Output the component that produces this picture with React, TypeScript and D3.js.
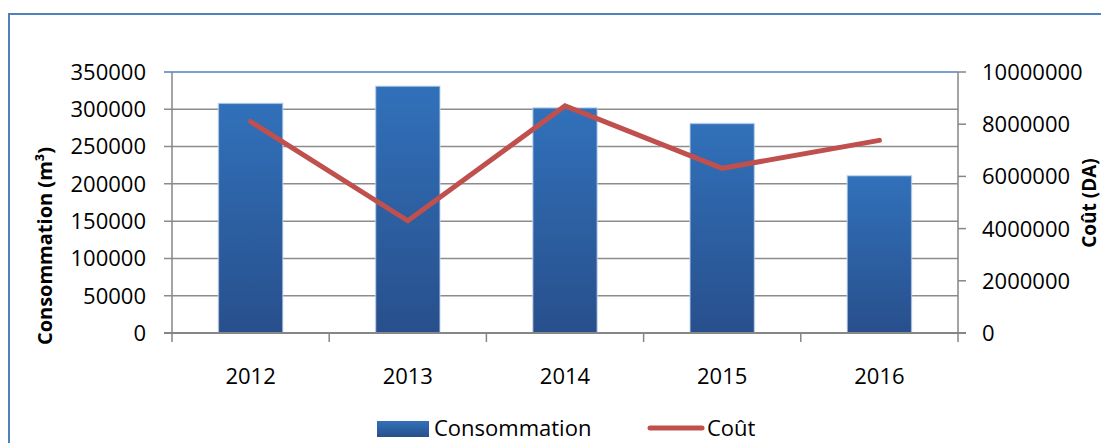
import { useRef, useEffect } from "react";
import * as d3 from "d3";

const years = ["2012", "2013", "2014", "2015", "2016"];
const consommation = [308000, 331000, 302000, 281000, 211000];
const cout = [8100000, 4300000, 8700000, 6310000, 7380000];
const leftTicks = [0, 50000, 100000, 150000, 200000, 250000, 300000, 350000];
const rightTicks = [0, 2000000, 4000000, 6000000, 8000000, 10000000];

const WIDTH = 1101;
const HEIGHT = 443;
const FONT = "'Open Sans', 'Liberation Sans', sans-serif";

export default function App() {
  const svgRef = useRef<SVGSVGElement>(null);

  useEffect(() => {
    if (!svgRef.current) return;
    const svg = d3.select(svgRef.current);
    svg.selectAll("*").remove();

    const plot = { left: 172, right: 958, top: 72, bottom: 333 };

    const defs = svg.append("defs");
    const grad = defs
      .append("linearGradient")
      .attr("id", "barGrad")
      .attr("x1", 0)
      .attr("y1", 0)
      .attr("x2", 0)
      .attr("y2", 1);
    grad.append("stop").attr("offset", "0%").attr("stop-color", "#3171ba");
    grad.append("stop").attr("offset", "100%").attr("stop-color", "#284f8c");

    // outer frame
    svg
      .append("rect")
      .attr("x", 9)
      .attr("y", 14)
      .attr("width", 1300)
      .attr("height", 600)
      .attr("fill", "white")
      .attr("stroke", "#4f81bd")
      .attr("stroke-width", 2);

    const x = d3
      .scaleBand()
      .domain(years)
      .range([plot.left, plot.right])
      .paddingInner(0);

    const yLeft = d3
      .scaleLinear()
      .domain([0, 350000])
      .range([plot.bottom, plot.top]);

    const yRight = d3
      .scaleLinear()
      .domain([0, 10000000])
      .range([plot.bottom, plot.top]);

    // gridlines
    svg
      .selectAll(".grid")
      .data(leftTicks.filter((d) => d > 0))
      .enter()
      .append("line")
      .attr("x1", plot.left - 8)
      .attr("x2", plot.right)
      .attr("y1", (d) => yLeft(d))
      .attr("y2", (d) => yLeft(d))
      .attr("stroke", (d) => (d === 350000 ? "#4f81bd" : "#8c8c8c"))
      .attr("stroke-width", 1.5);

    // bars
    const barW = x.bandwidth() * 0.41;
    svg
      .selectAll(".bar")
      .data(years)
      .enter()
      .append("rect")
      .attr("x", (d) => (x(d) || 0) + x.bandwidth() / 2 - barW / 2)
      .attr("y", (_, i) => yLeft(consommation[i]))
      .attr("width", barW)
      .attr("height", (_, i) => plot.bottom - yLeft(consommation[i]))
      .attr("fill", "url(#barGrad)")
      .attr("stroke", "#c9daee")
      .attr("stroke-opacity", 0.6)
      .attr("stroke-width", 1.5);

    // axes
    const axisColor = "#868686";
    svg
      .append("line")
      .attr("x1", plot.left)
      .attr("x2", plot.left)
      .attr("y1", plot.top)
      .attr("y2", plot.bottom + 9)
      .attr("stroke", axisColor)
      .attr("stroke-width", 1.5);
    svg
      .append("line")
      .attr("x1", plot.right)
      .attr("x2", plot.right)
      .attr("y1", plot.top)
      .attr("y2", plot.bottom + 9)
      .attr("stroke", axisColor)
      .attr("stroke-width", 1.5);
    svg
      .append("line")
      .attr("x1", plot.left - 8)
      .attr("x2", plot.right + 8)
      .attr("y1", plot.bottom)
      .attr("y2", plot.bottom)
      .attr("stroke", axisColor)
      .attr("stroke-width", 2);

    // right axis ticks
    svg
      .selectAll(".rtick")
      .data(rightTicks)
      .enter()
      .append("line")
      .attr("x1", plot.right)
      .attr("x2", plot.right + 8)
      .attr("y1", (d) => yRight(d))
      .attr("y2", (d) => yRight(d))
      .attr("stroke", axisColor)
      .attr("stroke-width", 1.5);

    // category ticks
    svg
      .selectAll(".ctick")
      .data(years.slice(1))
      .enter()
      .append("line")
      .attr("x1", (d) => x(d) || 0)
      .attr("x2", (d) => x(d) || 0)
      .attr("y1", plot.bottom)
      .attr("y2", plot.bottom + 9)
      .attr("stroke", axisColor)
      .attr("stroke-width", 1.5);

    // line
    const line = d3
      .line<number>()
      .x((_, i) => (x(years[i]) || 0) + x.bandwidth() / 2)
      .y((d) => yRight(d));
    svg
      .append("path")
      .datum(cout)
      .attr("d", line)
      .attr("fill", "none")
      .attr("stroke", "#c0504d")
      .attr("stroke-width", 5)
      .attr("stroke-linecap", "round")
      .attr("stroke-linejoin", "miter");

    // tick labels
    svg
      .selectAll(".ltl")
      .data(leftTicks)
      .enter()
      .append("text")
      .attr("x", 146)
      .attr("y", (d) => yLeft(d))
      .attr("dy", "0.36em")
      .attr("text-anchor", "end")
      .attr("font-family", FONT)
      .attr("font-size", 22)
      .attr("fill", "#000")
      .text((d) => String(d));

    svg
      .selectAll(".rtl")
      .data(rightTicks)
      .enter()
      .append("text")
      .attr("x", 982)
      .attr("y", (d) => yRight(d))
      .attr("dy", "0.36em")
      .attr("font-family", FONT)
      .attr("font-size", 22)
      .attr("fill", "#000")
      .text((d) => String(d));

    svg
      .selectAll(".xtl")
      .data(years)
      .enter()
      .append("text")
      .attr("x", (d) => (x(d) || 0) + x.bandwidth() / 2)
      .attr("y", 384)
      .attr("text-anchor", "middle")
      .attr("font-family", FONT)
      .attr("font-size", 22)
      .attr("fill", "#000")
      .text((d) => d);

    // axis titles
    svg
      .append("text")
      .attr("transform", "translate(52, 246) rotate(-90)")
      .attr("text-anchor", "middle")
      .attr("font-family", FONT)
      .attr("font-size", 20)
      .attr("font-weight", "bold")
      .text("Consommation (m³)");

    svg
      .append("text")
      .attr("transform", "translate(1096, 203) rotate(-90)")
      .attr("text-anchor", "middle")
      .attr("font-family", FONT)
      .attr("font-size", 19)
      .attr("font-weight", "bold")
      .text("Coût (DA)");

    // legend
    svg
      .append("rect")
      .attr("x", 377)
      .attr("y", 421)
      .attr("width", 52)
      .attr("height", 16)
      .attr("fill", "url(#barGrad)");
    svg
      .append("text")
      .attr("x", 434)
      .attr("y", 436)
      .attr("font-family", FONT)
      .attr("font-size", 22)
      .text("Consommation");
    svg
      .append("line")
      .attr("x1", 650)
      .attr("x2", 702)
      .attr("y1", 428)
      .attr("y2", 428)
      .attr("stroke", "#c0504d")
      .attr("stroke-width", 5)
      .attr("stroke-linecap", "round");
    svg
      .append("text")
      .attr("x", 707)
      .attr("y", 436)
      .attr("font-family", FONT)
      .attr("font-size", 22)
      .text("Coût");
  }, []);

  return (
    <svg
      ref={svgRef}
      width={WIDTH}
      height={HEIGHT}
      style={{ position: "absolute", left: 0, top: 0, display: "block" }}
    />
  );
}
